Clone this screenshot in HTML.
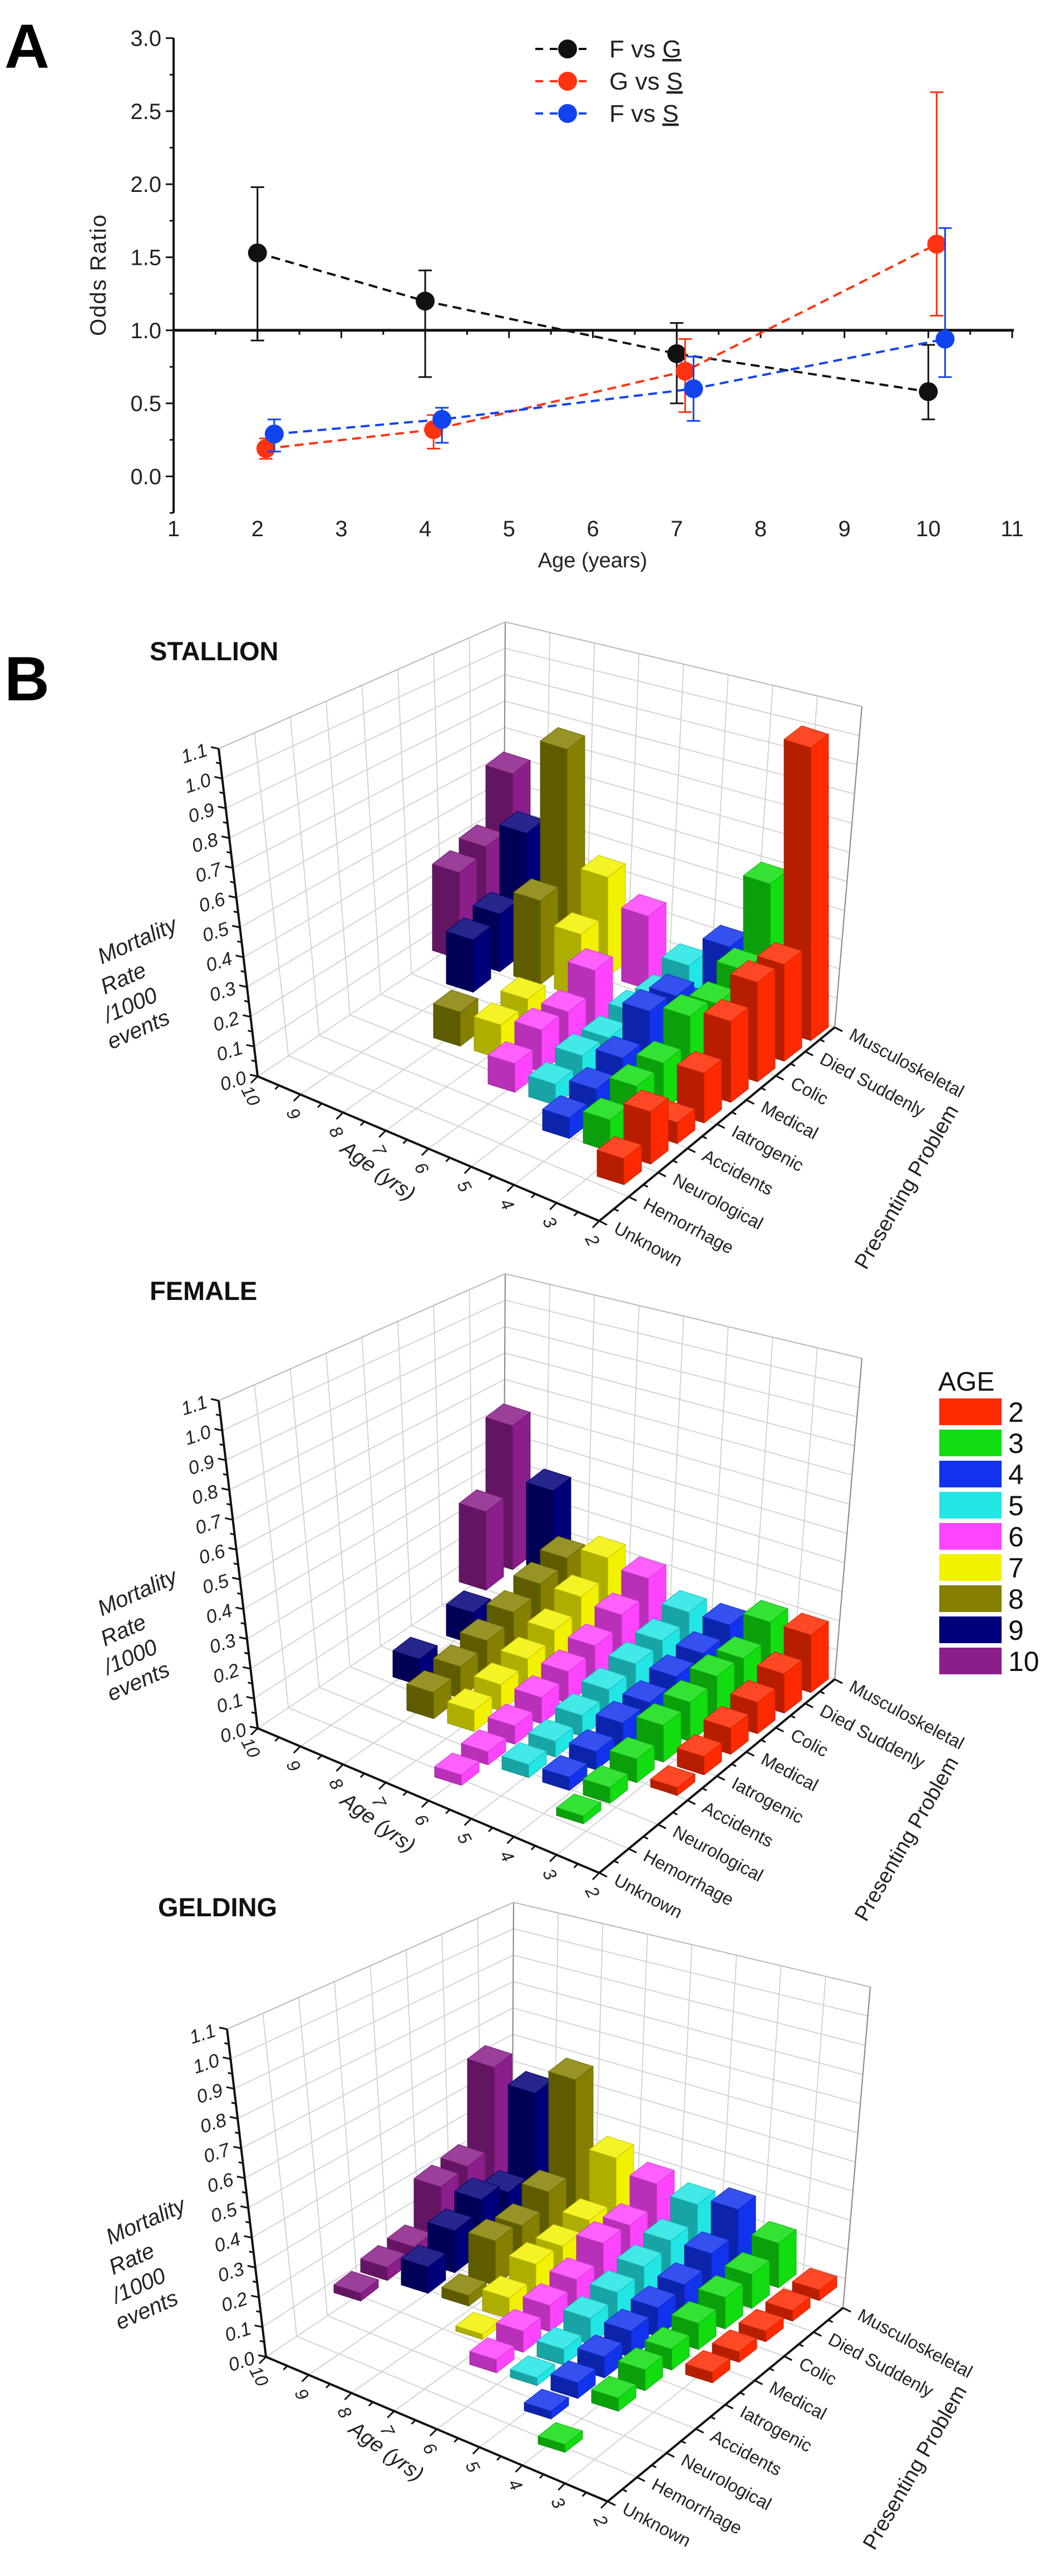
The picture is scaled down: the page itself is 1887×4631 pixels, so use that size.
<!DOCTYPE html>
<html><head><meta charset="utf-8"><style>
html,body{margin:0;padding:0;background:#fff;}
svg{display:block;font-family:"Liberation Sans",Arial,sans-serif;}
</style></head><body>
<svg id="fig" width="1887" height="4631" viewBox="0 0 1887 4631" xmlns="http://www.w3.org/2000/svg">
<rect width="1887" height="4631" fill="#fff"/>
<text x="8" y="122" font-size="112" font-weight="bold">A</text>
<text x="8" y="1259" font-size="112" font-weight="bold">B</text>
<g id="panelA"></g>
<g id="panelS"></g>
<g id="panelF"></g>
<g id="panelG"></g>
<g id="legend"></g>
</svg>
<script>
// ---------- Panel A data ----------
const ageX = [2, 4, 7, 10];
const fvgVal = [1.53, 1.2, 0.84, 0.58];
const fvgLo = [0.93, 0.68, 0.5, 0.39];
const fvgHi = [1.98, 1.41, 1.05, 0.9];
const gvsVal = [0.19, 0.32, 0.72, 1.59];
const gvsLo = [0.12, 0.19, 0.44, 1.1];
const gvsHi = [0.26, 0.42, 0.94, 2.63];
const fvsVal = [0.29, 0.39, 0.6, 0.94];
const fvsLo = [0.17, 0.23, 0.38, 0.68];
const fvsHi = [0.39, 0.47, 0.82, 1.7];
const xTicksA = [1,2,3,4,5,6,7,8,9,10,11];
const yTicksA = ["0.0","0.5","1.0","1.5","2.0","2.5","3.0"];

// ---------- Panel B data (rows: age 2..10, cols: problems) ----------
const n = null;
const problems = ["Unknown","Hemorrhage","Neurological","Accidents","Iatrogenic","Medical","Colic","Died Suddenly","Musculoskeletal"];
const ageLabels = ["10","9","8","7","6","5","4","3","2"];
const zTicks = ["0.0","0.1","0.2","0.3","0.4","0.5","0.6","0.7","0.8","0.9","1.0","1.1"];
const legendAges = ["2","3","4","5","6","7","8","9","10"];
const stallion = [
 [.1,.2,.08,.19,.31,.38,.37,1.12,n],
 [n,.12,.17,.18,.28,.25,.3,.55,n],
 [n,.08,.11,.15,.25,.23,.1,.26,n],
 [n,n,.08,.11,.1,.12,.1,.14,n],
 [n,n,.11,.16,.15,.23,n,.28,n],
 [n,n,n,.13,.15,n,.24,.38,n],
 [n,n,n,.13,n,n,.32,.82,n],
 [n,n,n,n,n,.2,.22,.45,n],
 [n,n,n,n,n,n,.33,.35,.55]];
const female = [
 [n,n,.03,.07,.1,.12,.15,.22,n],
 [.03,.06,.09,.14,.15,.17,.16,.22,n],
 [n,.05,.07,.1,.1,.12,.13,.16,n],
 [n,.05,.06,.08,.1,.12,.13,.16,n],
 [.04,.05,.07,.1,.12,.14,.18,.24,n],
 [n,n,.08,.1,.12,.15,.2,.27,n],
 [n,n,.1,.12,.14,.17,.2,.22,n],
 [n,n,n,.1,n,.12,n,n,.35],
 [n,n,n,n,n,n,n,.3,.55]];
const gelding = [
 [n,n,n,n,.04,.04,.04,.04,.04],
 [.03,n,.05,.08,.08,.1,.12,.13,.17],
 [n,.03,.06,.08,.1,.11,.12,.16,.25],
 [n,n,.03,.06,.1,.12,.14,.16,.22],
 [n,n,.05,.08,.1,.12,.18,.17,.25],
 [n,n,n,.02,.08,.13,.12,.14,.3],
 [n,n,n,n,.04,.17,.15,.2,.55],
 [n,n,n,n,.1,.16,.2,.15,.45],
 [n,n,n,.03,.05,.05,.2,.2,.5]];
const colors = ["#ff2a00","#11dd11","#1133ee","#22e5e5","#ff44ff","#f2f200","#858000","#00007a","#8a1e8a"];

const NS = "http://www.w3.org/2000/svg";
function mk(parent, tag, attrs, name, text){
  const e = document.createElementNS(NS, tag);
  for (const k in attrs) e.setAttribute(k, attrs[k]);
  
  
  if (text !== undefined) e.textContent = text;
  parent.appendChild(e);
  return e;
}

// ---------- Panel A ----------
(function(){
  const g = document.getElementById('panelA');
  const X = v => 312 + (v - 1) * 150.7;
  const Y = v => 856.4 - v * 262.6;
  mk(g,'line',{x1:312,y1:Y(3.0),x2:312,y2:Y(-0.25),stroke:'#111','stroke-width':4},'y-axis');
  yTicksA.forEach((t,i)=>{
    const v = i*0.5;
    mk(g,'line',{x1:298,y1:Y(v),x2:312,y2:Y(v),stroke:'#111','stroke-width':3},'y-tick');
    mk(g,'text',{x:290,y:Y(v)+14,'font-size':40,'text-anchor':'end',fill:'#222'},'y-tick-label',t);
    if (i<6) mk(g,'line',{x1:305,y1:Y(v+0.25),x2:312,y2:Y(v+0.25),stroke:'#111','stroke-width':3},'y-minor-tick');
  });
  mk(g,'line',{x1:305,y1:Y(-0.25),x2:312,y2:Y(-0.25),stroke:'#111','stroke-width':3},'y-minor-tick');
  mk(g,'line',{x1:312,y1:Y(1),x2:1822,y2:Y(1),stroke:'#111','stroke-width':5},'reference-line');
  xTicksA.forEach((t,i)=>{
    mk(g,'line',{x1:X(t),y1:Y(1),x2:X(t),y2:Y(1)+14,stroke:'#111','stroke-width':3},'x-tick');
    if (i<10) mk(g,'line',{x1:X(t+0.5),y1:Y(1),x2:X(t+0.5),y2:Y(1)+8,stroke:'#111','stroke-width':3},'x-minor-tick');
    mk(g,'text',{x:X(t),y:964,'font-size':40,'text-anchor':'middle',fill:'#222'},'x-tick-label',String(t));
  });
  mk(g,'text',{x:1065,y:1020,'font-size':38,'text-anchor':'middle',fill:'#222'},'x-axis-title','Age (years)');
  mk(g,'text',{x:0,y:0,'font-size':40,'text-anchor':'middle',fill:'#222',transform:'translate(190,494) rotate(-90)','letter-spacing':'2'},'y-axis-title','Odds Ratio');
  const series = [
    {v:fvgVal,lo:fvgLo,hi:fvgHi,c:'#111',off:0,name:'f-vs-g'},
    {v:gvsVal,lo:gvsLo,hi:gvsHi,c:'#ff3311',off:0.1,name:'g-vs-s'},
    {v:fvsVal,lo:fvsLo,hi:fvsHi,c:'#1144ee',off:0.2,name:'f-vs-s'}];
  series.forEach(s=>{
    const pts = s.v.map((v,i)=>X(ageX[i]+s.off)+','+Y(v)).join(' ');
    mk(g,'polyline',{points:pts,fill:'none',stroke:s.c,'stroke-width':4,'stroke-dasharray':'16,10'},s.name+'-line');
    s.v.forEach((v,i)=>{
      const x = X(ageX[i]+s.off);
      mk(g,'line',{x1:x,y1:Y(s.lo[i]),x2:x,y2:Y(s.hi[i]),stroke:s.c,'stroke-width':3},s.name+'-error-bar');
      mk(g,'line',{x1:x-12,y1:Y(s.lo[i]),x2:x+12,y2:Y(s.lo[i]),stroke:s.c,'stroke-width':3},s.name+'-error-cap');
      mk(g,'line',{x1:x-12,y1:Y(s.hi[i]),x2:x+12,y2:Y(s.hi[i]),stroke:s.c,'stroke-width':3},s.name+'-error-cap');
      mk(g,'circle',{cx:x,cy:Y(v),r:17,fill:s.c},s.name+'-point');
    });
  });
  const leg = [['F vs ','G','#111'],['G vs ','S','#ff3311'],['F vs ','S','#1144ee']];
  leg.forEach((l,i)=>{
    const y = 88 + i*58;
    mk(g,'line',{x1:962,y1:y,x2:1062,y2:y,stroke:l[2],'stroke-width':4,'stroke-dasharray':'14,12'},'legend-line');
    mk(g,'circle',{cx:1020,cy:y,r:17,fill:l[2]},'legend-marker');
    const t = mk(g,'text',{x:1095,y:y+15,'font-size':44,fill:'#222'},'legend-label');
    t.appendChild(document.createTextNode(l[0]));
    const ts = document.createElementNS(NS,'tspan');
    ts.setAttribute('text-decoration','underline');
    ts.textContent = l[1];
    t.appendChild(ts);
  });
})();

// ---------- Panel B 3D bars ----------
const AS = [-73,-23], PS = [48,-37], ZS = 470;
function draw3D(gid, data, title, titleY, dx, dy, baseDx){
  const g = document.getElementById(gid);
  const T = (x,y)=>[x+dx, y+dy];
  const C = T(463,1935), ZT = T(393,1346), BT = T(908,1118), BB = T(905,1640), RT = T(1549,1270), RB = T(1500,1847), AE = T(1077,2195);
  const lerp=(p,q,t)=>[p[0]+(q[0]-p[0])*t, p[1]+(q[1]-p[1])*t];
  const L=(p,q,name,st,w)=>mk(g,'line',{x1:p[0],y1:p[1],x2:q[0],y2:q[1],stroke:st,'stroke-width':w},name);
  mk(g,'text',{x:269+dx,y:titleY,'font-size':47,'font-weight':'bold',fill:'#111'},'panel-title',title);
  // walls grid
  for (let k=1;k<=11;k++){
    const t=k/11;
    L(lerp(C,ZT,t),lerp(BB,BT,t),'left-wall-gridline','#d4d4d4',2);
    L(lerp(BB,BT,t),lerp(RB,RT,t),'right-wall-gridline','#d4d4d4',2);
  }
  for (let k=0;k<=8;k++){
    const t=k/8;
    L(lerp(C,BB,t),lerp(ZT,BT,t),'left-wall-gridline','#d4d4d4',2);
    L(lerp(BB,RB,t),lerp(BT,RT,t),'right-wall-gridline','#d4d4d4',2);
    L(lerp(C,AE,t),lerp(BB,RB,t),'floor-gridline','#d4d4d4',2);
    L(lerp(AE,RB,t),lerp(C,BB,t),'floor-gridline','#d4d4d4',2);
  }
  L(BB,BT,'back-edge','#888',2); L(RB,RT,'right-edge','#888',2);
  L(ZT,BT,'left-wall-top','#bbb',2); L(BT,RT,'right-wall-top','#bbb',2);
  // z axis
  L(C,ZT,'z-axis','#111',4);
  zTicks.forEach((t,i)=>{
    const p = lerp(C,ZT,i/11);
    L(p,[p[0]-14,p[1]-3],'z-tick','#111',3);
    if(i<11){const q=lerp(C,ZT,(i+0.5)/11); L(q,[q[0]-8,q[1]-2],'z-minor-tick','#111',3);}
    mk(g,'text',{x:0,y:0,'font-size':34,'font-style':'italic','text-anchor':'end',fill:'#222',transform:`translate(${p[0]-18},${p[1]+12}) rotate(-18)`},'z-tick-label',t);
  });
  // age axis
  L(C,AE,'age-axis','#111',4);
  ageLabels.forEach((t,i)=>{
    const p = lerp(C,AE,i/8);
    L(p,[p[0]-12,p[1]+12],'age-tick','#111',3);
    if(i<8){const q=lerp(C,AE,(i+0.5)/8); L(q,[q[0]-7,q[1]+7],'age-minor-tick','#111',3);}
    mk(g,'text',{x:0,y:0,'font-size':32,'font-style':'italic','text-anchor':'middle',fill:'#222',transform:`translate(${p[0]-22},${p[1]+40}) rotate(62)`},'age-tick-label',t);
  });
  mk(g,'text',{x:0,y:0,'font-size':38,'font-style':'italic','text-anchor':'middle',fill:'#222',transform:`translate(${672+dx},${2115+dy}) rotate(36)`},'age-axis-title','Age (yrs)');
  // problem axis
  L(AE,RB,'problem-axis','#111',4);
  problems.forEach((t,i)=>{
    const p = lerp(AE,RB,i/8);
    L(p,[p[0]+14,p[1]+7],'problem-tick','#111',3);
    if(i<8){const q=lerp(AE,RB,(i+0.5)/8); L(q,[q[0]+8,q[1]+4],'problem-minor-tick','#111',3);}
    mk(g,'text',{x:0,y:0,'font-size':32,'text-anchor':'start',fill:'#222',transform:`translate(${p[0]+24},${p[1]+20}) rotate(28)`},'problem-tick-label',t);
  });
  mk(g,'text',{x:0,y:0,'font-size':38,'text-anchor':'middle',fill:'#222',transform:`translate(${1640+dx},${2140+dy}) rotate(-60)`},'problem-axis-title','Presenting Problem');
  [['Mortality',252,1703],['Rate',227,1771],['/1000',240,1819],['events',254,1863]].forEach(w=>{
    mk(g,'text',{x:0,y:0,'font-size':40,'font-style':'italic','text-anchor':'middle',fill:'#222',transform:`translate(${w[1]+dx},${w[2]+dy}) rotate(-24)`},'z-axis-title',w[0]);
  });
  // bars
  const base = [C[0]+650+baseDx, C[1]+175];
  const list=[];
  data.forEach((row,a)=>row.forEach((v,j)=>{ if(v!==null) list.push([a,j,v]); }));
  list.sort((p,q)=>(q[0]+q[1])-(p[0]+p[1]) || q[0]-p[0]);
  const shade=(hex,f)=>{const c=parseInt(hex.slice(1),16);let r=c>>16,gg=(c>>8)&255,b=c&255;
    if(f<1){r*=f;gg*=f;b*=f;}else{r+=(255-r)*(f-1);gg+=(255-gg)*(f-1);b+=(255-b)*(f-1);}
    return `rgb(${r|0},${gg|0},${b|0})`;};
  list.forEach(([a,j,v])=>{
    const cx = base[0]+a*AS[0]+j*PS[0], cy = base[1]+a*AS[1]+j*PS[1];
    const u=[PS[0]*0.33,PS[1]*0.33], w=[AS[0]*0.33,AS[1]*0.33];
    const h = v*ZS;
    const pt=(su,sw,z)=>[cx+su*u[0]+sw*w[0], cy+su*u[1]+sw*w[1]-z];
    const poly=ps=>ps.map(p=>p[0].toFixed(1)+','+p[1].toFixed(1)).join(' ');
    const col = colors[a];
    mk(g,'polygon',{points:poly([pt(-1,-1,0),pt(-1,1,0),pt(-1,1,h),pt(-1,-1,h)]),fill:shade(col,0.72),stroke:shade(col,0.6),'stroke-width':1},'bar-left-face');
    mk(g,'polygon',{points:poly([pt(-1,-1,0),pt(1,-1,0),pt(1,-1,h),pt(-1,-1,h)]),fill:col,stroke:shade(col,0.8),'stroke-width':1},'bar-front-face');
    mk(g,'polygon',{points:poly([pt(-1,-1,h),pt(1,-1,h),pt(1,1,h),pt(-1,1,h)]),fill:shade(col,1.15),stroke:shade(col,0.8),'stroke-width':1},'bar-top-face');
  });
}
draw3D('panelS', stallion, 'STALLION', 1187, 0, 0, 0);
draw3D('panelF', female, 'FEMALE', 2337, 0, 1172, 0);
draw3D('panelG', gelding, 'GELDING', 3445, 15, 2302, -48);

// legend
(function(){
  const g = document.getElementById('legend');
  mk(g,'text',{x:1686,y:2500,'font-size':48,fill:'#111'},'legend-title','AGE');
  legendAges.forEach((t,i)=>{
    const y = 2514 + i*56;
    mk(g,'rect',{x:1688,y:y,width:112,height:48,fill:colors[i]},'legend-swatch');
    mk(g,'text',{x:1812,y:y+42,'font-size':50,fill:'#111'},'legend-label',t);
  });
})();
</script>
</body></html>
